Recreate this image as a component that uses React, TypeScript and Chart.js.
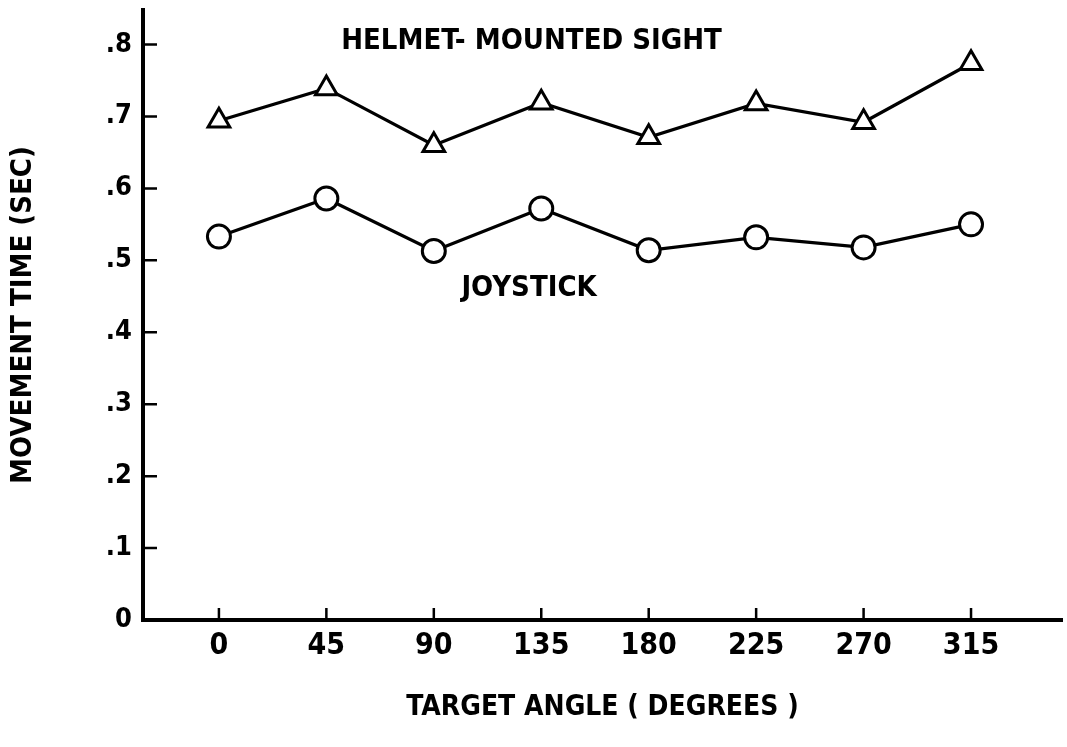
import React, { useEffect, useRef } from "react";
import { Chart, registerables } from "chart.js";

Chart.register(...registerables);

const angles = [0, 45, 90, 135, 180, 225, 270, 315];
const helmetSight = [0.694, 0.739, 0.66, 0.719, 0.671, 0.718, 0.692, 0.774];
const joystick = [0.533, 0.586, 0.513, 0.572, 0.514, 0.532, 0.518, 0.55];
const yTicks = [0, 0.1, 0.2, 0.3, 0.4, 0.5, 0.6, 0.7, 0.8];
const xTicks = angles;
const seriesLabels = ["HELMET- MOUNTED SIGHT", "JOYSTICK"];
const labelAnchors = [
  { x: 130.9, y: 0.804 },
  { x: 129.9, y: 0.461 },
];
const xTitle = "TARGET ANGLE ( DEGREES )";
const yTitle = "MOVEMENT TIME (SEC)";

const FONT = "'DejaVu Sans Condensed', 'Liberation Sans Narrow', sans-serif";

const innerTicks = {
  id: "innerTicks",
  afterDraw(chart: any) {
    const { ctx, chartArea, scales } = chart;
    const x = scales.x;
    const y = scales.y;
    ctx.save();
    ctx.strokeStyle = "#000";
    ctx.lineWidth = 2.5;
    ctx.beginPath();
    xTicks.forEach((v) => {
      const px = x.getPixelForValue(v);
      ctx.moveTo(px, chartArea.bottom);
      ctx.lineTo(px, chartArea.bottom - 12);
    });
    yTicks.forEach((v) => {
      if (v === 0) return;
      const py = y.getPixelForValue(v);
      ctx.moveTo(chartArea.left, py);
      ctx.lineTo(chartArea.left + 14, py);
    });
    ctx.stroke();
    ctx.restore();
  },
};

const seriesText = {
  id: "seriesText",
  afterDraw(chart: any) {
    const { ctx, scales } = chart;
    ctx.save();
    ctx.fillStyle = "#000";
    ctx.font = `bold 29px ${FONT}`;
    ctx.textAlign = "center";
    ctx.textBaseline = "middle";
    seriesLabels.forEach((t, i) => {
      const a = labelAnchors[i];
      ctx.fillText(t, scales.x.getPixelForValue(a.x), scales.y.getPixelForValue(a.y));
    });
    ctx.restore();
  },
};

export default function App() {
  const ref = useRef<HTMLCanvasElement>(null);
  useEffect(() => {
    if (!ref.current) return;
    const chart = new Chart(ref.current, {
      type: "line",
      data: {
        datasets: [
          {
            label: seriesLabels[0],
            data: angles.map((a, i) => ({ x: a, y: helmetSight[i] })),
            borderColor: "#000",
            borderWidth: 3.2,
            pointStyle: "triangle",
            pointRadius: 12.5,
            pointBorderWidth: 3,
            pointBorderColor: "#000",
            pointBackgroundColor: "#fff",
            tension: 0,
          },
          {
            label: seriesLabels[1],
            data: angles.map((a, i) => ({ x: a, y: joystick[i] })),
            borderColor: "#000",
            borderWidth: 3.2,
            pointStyle: "circle",
            pointRadius: 11.5,
            pointBorderWidth: 3,
            pointBorderColor: "#000",
            pointBackgroundColor: "#fff",
            tension: 0,
          },
        ],
      },
      options: {
        responsive: false,
        animation: false,
        layout: { autoPadding: false, padding: { top: 10, right: 5, left: 0, bottom: 0 } },
        plugins: { legend: { display: false }, tooltip: { enabled: false } },
        scales: {
          x: {
            type: "linear",
            min: -31.8,
            max: 353.1,
            afterBuildTicks: (s: any) => {
              s.ticks = xTicks.map((v) => ({ value: v }));
            },
            afterFit: (s: any) => {
              s.height = 127;
              s.paddingLeft = 0;
              s.paddingRight = 0;
            },
            grid: { display: false, drawTicks: false },
            border: { display: true, color: "#000", width: 4 },
            ticks: {
              color: "#000",
              padding: 8,
              font: { family: FONT, size: 30, weight: "bold" },
              callback: (v: any) => String(v),
              maxRotation: 0,
              autoSkip: false,
            },
            title: {
              display: true,
              text: xTitle,
              color: "#000",
              font: { family: FONT, size: 28, weight: "bold" },
              padding: { top: 0, bottom: 22 },
            },
          },
          y: {
            type: "linear",
            min: 0,
            max: 0.848,
            afterBuildTicks: (s: any) => {
              s.ticks = yTicks.map((v) => ({ value: v }));
            },
            afterFit: (s: any) => {
              s.width = 143;
              s.paddingTop = 0;
              s.paddingBottom = 0;
            },
            grid: { display: false, drawTicks: false },
            border: { display: true, color: "#000", width: 4 },
            ticks: {
              color: "#000",
              padding: 11,
              font: { family: FONT, size: 27, weight: "bold" },
              callback: (v: any) => (v === 0 ? "0" : "." + Math.round(v * 10)),
              autoSkip: false,
            },
            title: {
              display: true,
              text: yTitle,
              color: "#000",
              font: { family: FONT, size: 29, weight: "bold" },
              padding: { top: 6, bottom: 0 },
            },
          },
        },
      },
      plugins: [innerTicks, seriesText],
    } as any);
    return () => chart.destroy();
  }, []);
  return (
    <div style={{ position: "absolute", left: 0, top: 0, width: 1067, height: 747, background: "#fff" }}>
      <canvas ref={ref} width={1067} height={747} />
    </div>
  );
}
